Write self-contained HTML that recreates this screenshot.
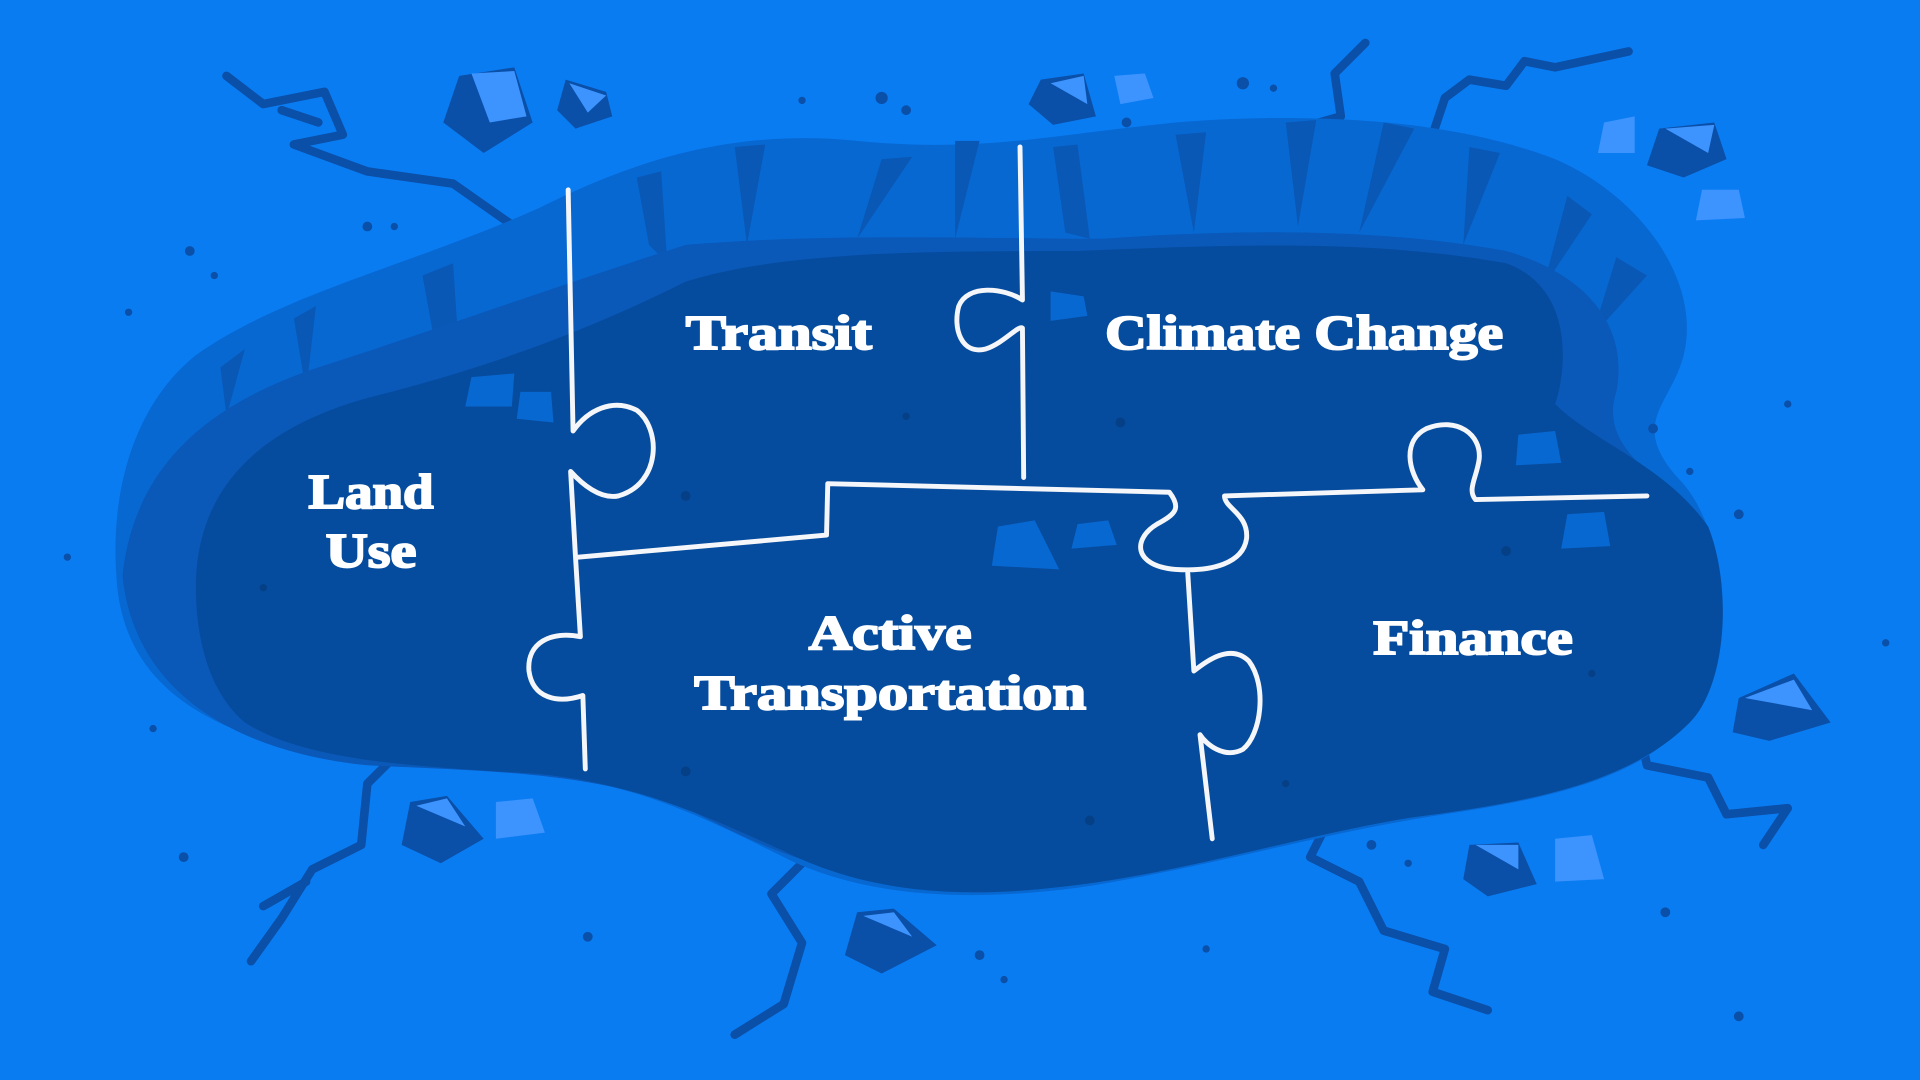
<!DOCTYPE html>
<html><head><meta charset="utf-8"><style>
html,body{margin:0;padding:0;background:#0a7cf2;overflow:hidden}
svg{display:block}
text{font-family:"Liberation Serif",serif;font-weight:bold;fill:#fff;stroke:#fff;stroke-width:1.6;text-anchor:middle}
</style></head><body>
<svg width="1920" height="1080" viewBox="0 0 1568 882" xmlns="http://www.w3.org/2000/svg">
<rect width="1568" height="882" fill="#0a7cf2"/>
<!-- cracks -->
<g fill="none" stroke="#0a4fa8" stroke-width="7" stroke-linejoin="round" stroke-linecap="round">
<polyline points="185,62 215,85 265,75 280,110 240,118 300,140 370,150 420,185"/>
<polyline points="230,90 260,100"/>
<polyline points="1115,35 1090,60 1095,95 1060,105 1040,115"/>
<polyline points="1330,42 1270,55 1245,50 1230,70 1200,65 1180,80 1170,110"/>
<polyline points="320,620 300,640 295,690 255,710 230,750 205,785"/>
<polyline points="250,720 215,740"/>
<polyline points="660,700 630,730 655,770 640,820 600,845"/>
<polyline points="1080,680 1070,700 1110,720 1130,760 1180,775 1170,810 1215,825"/>
<polyline points="1340,600 1345,625 1395,635 1410,665 1460,660 1440,690"/>
</g>
<!-- pit rim -->
<path d="M95,470 C90,400 110,330 160,290 C230,240 340,215 440,170 C520,130 600,105 700,115 C800,125 860,110 960,100 C1060,92 1180,95 1270,130 C1340,160 1390,230 1375,290 C1365,330 1330,345 1370,390 C1410,430 1415,520 1390,570 C1360,630 1280,650 1180,665 C1080,680 980,710 880,725 C780,738 700,730 640,700 C580,670 520,640 440,632 C350,625 260,625 190,595 C130,570 98,530 95,470 Z" fill="#0868d2"/>
<!-- rim stripes -->
<g fill="#0a58b6">
<path d="M180,300 L200,285 L185,340 Z"/><path d="M240,260 L258,250 L250,320 Z"/>
<path d="M345,225 L370,215 L375,290 L355,280 Z"/><path d="M520,145 L540,140 L545,215 L530,200 Z"/>
<path d="M600,120 L625,118 L610,200 Z"/><path d="M720,130 L745,128 L700,195 Z"/>
<path d="M780,115 L800,115 L780,195 Z"/><path d="M860,120 L880,118 L890,195 L870,190 Z"/>
<path d="M960,110 L985,108 L975,190 Z"/><path d="M1050,100 L1075,98 L1060,185 Z"/>
<path d="M1130,100 L1155,105 L1110,190 Z"/><path d="M1200,120 L1225,125 L1195,200 Z"/>
<path d="M1280,160 L1300,175 L1260,235 Z"/><path d="M1320,210 L1345,225 L1300,275 Z"/>
</g>
<!-- inner band -->
<path d="M100,470 C110,380 170,330 260,300 C360,268 450,235 560,200 C680,190 800,195 900,195 C1000,188 1120,185 1230,205 C1300,225 1330,270 1320,320 C1310,350 1330,370 1340,380 L1330,600 C1200,660 1000,700 850,720 C700,735 620,690 560,660 C480,630 400,630 300,625 C200,615 110,570 100,470 Z" fill="#0a58b8"/>
<!-- floor -->
<path d="M160,480 C160,400 210,350 300,325 C400,300 480,270 560,230 C640,205 760,205 880,205 C1000,200 1120,195 1230,215 C1285,235 1280,300 1270,330 C1300,360 1360,380 1395,430 C1415,480 1410,560 1380,590 C1330,640 1250,655 1150,668 C1050,685 960,715 860,725 C770,735 700,725 640,695 C580,668 520,640 440,632 C340,626 250,622 200,590 C170,565 160,520 160,480 Z" fill="#064c9e"/>
<!-- rocks -->
<g>
<path d="M375,62 L420,55 L435,100 L395,125 L362,100 Z" fill="#0a4fa8"/><path d="M385,60 L420,58 L430,95 L400,100 Z" fill="#3d94ff"/>
<path d="M462,65 L495,75 L500,95 L470,105 L455,90 Z" fill="#0a4fa8"/><path d="M465,68 L495,78 L480,92 Z" fill="#3d94ff"/>
<path d="M850,65 L885,60 L895,95 L860,102 L840,85 Z" fill="#0a4fa8"/><path d="M858,68 L885,62 L888,85 Z" fill="#3d94ff"/>
<path d="M910,62 L935,60 L942,80 L915,85 Z" fill="#3d94ff"/>
<path d="M1310,100 L1335,95 L1335,125 L1305,125 Z" fill="#3d94ff"/>
<path d="M1355,105 L1400,100 L1410,130 L1375,145 L1345,135 Z" fill="#0a4fa8"/><path d="M1360,105 L1400,102 L1395,125 Z" fill="#3d94ff"/>
<path d="M1390,155 L1420,155 L1425,178 L1385,180 Z" fill="#3d94ff"/>
<path d="M1420,570 L1465,550 L1495,590 L1445,605 L1415,598 Z" fill="#0a4fa8"/><path d="M1425,570 L1465,555 L1480,580 Z" fill="#3d94ff"/>
<path d="M335,655 L365,650 L395,685 L360,705 L328,690 Z" fill="#0a4fa8"/><path d="M340,658 L365,652 L380,675 Z" fill="#3d94ff"/>
<path d="M405,655 L435,652 L445,680 L405,685 Z" fill="#3d94ff"/>
<path d="M700,745 L730,742 L765,772 L720,795 L690,780 Z" fill="#0a4fa8"/><path d="M705,748 L730,745 L745,765 Z" fill="#3d94ff"/>
<path d="M1200,690 L1240,688 L1255,722 L1215,732 L1195,718 Z" fill="#0a4fa8"/><path d="M1205,690 L1240,690 L1240,710 Z" fill="#3d94ff"/>
<path d="M1270,685 L1300,682 L1310,718 L1270,720 Z" fill="#3d94ff"/>
<path d="M815,430 L845,425 L865,465 L810,462 Z" fill="#0868d2"/><path d="M880,428 L905,425 L912,445 L875,448 Z" fill="#0868d2"/>
<path d="M858,238 L885,242 L888,258 L858,262 Z" fill="#0868d2"/>
<path d="M1280,420 L1310,418 L1315,446 L1275,448 Z" fill="#0868d2"/>
<path d="M1240,355 L1270,352 L1275,378 L1238,380 Z" fill="#0868d2"/>
<path d="M385,308 L420,305 L418,332 L380,332 Z" fill="#0868d2"/><path d="M425,320 L450,320 L452,345 L422,342 Z" fill="#0868d2"/>
</g>
<!-- speckles -->
<g fill="#0a4fa8">
<circle cx="155" cy="205" r="4"/><circle cx="175" cy="225" r="3"/><circle cx="300" cy="185" r="4"/><circle cx="322" cy="185" r="3"/><circle cx="105" cy="255" r="3"/>
<circle cx="720" cy="80" r="5"/><circle cx="740" cy="90" r="4"/><circle cx="655" cy="82" r="3"/><circle cx="1015" cy="68" r="5"/><circle cx="1040" cy="72" r="3"/>
<circle cx="1420" cy="420" r="4"/><circle cx="1460" cy="330" r="3"/><circle cx="1350" cy="350" r="4"/><circle cx="1380" cy="385" r="3"/>
<circle cx="150" cy="700" r="4"/><circle cx="125" cy="595" r="3"/><circle cx="480" cy="765" r="4"/><circle cx="800" cy="780" r="4"/><circle cx="820" cy="800" r="3"/>
<circle cx="1120" cy="690" r="4"/><circle cx="1150" cy="705" r="3"/><circle cx="1360" cy="745" r="4"/><circle cx="1420" cy="830" r="4"/><circle cx="985" cy="775" r="3"/>
<circle cx="55" cy="455" r="3"/><circle cx="1540" cy="525" r="3"/><circle cx="920" cy="100" r="4"/>
</g>
<g fill="#053f86">
<circle cx="560" cy="405" r="4"/><circle cx="740" cy="340" r="3"/><circle cx="915" cy="345" r="4"/><circle cx="1230" cy="450" r="4"/><circle cx="215" cy="480" r="3"/>
<circle cx="890" cy="670" r="4"/><circle cx="560" cy="630" r="4"/><circle cx="1050" cy="640" r="3"/><circle cx="1300" cy="550" r="3"/>
</g>
<!-- puzzle lines -->
<g fill="none" stroke="#f4f6fa" stroke-width="4" stroke-linecap="round" stroke-linejoin="round">
<path d="M464,155 L468,352 C480,335 500,325 520,335 C540,350 540,395 505,405 C490,408 475,395 466,385 L470,455 L474,520 C450,515 430,525 432,548 C435,570 455,575 476,568 L478,628"/>
<path d="M472,455 L675,437 L676,395 L955,402 C965,415 960,420 945,428 C925,440 925,462 960,465 C990,467 1015,460 1018,440 C1020,420 1000,415 1000,405 L1162,400 C1150,385 1145,360 1165,350 C1190,340 1210,355 1208,375 C1206,390 1198,400 1205,408 L1345,405"/>
<path d="M833,120 L835,245 C820,235 790,232 783,250 C778,268 785,290 805,285 C820,280 832,265 835,268 L836,390"/>
<path d="M970,468 L975,548 C985,540 1005,525 1020,540 C1035,560 1030,600 1015,612 C1000,620 985,608 980,600 L990,685"/>
</g>
<!-- labels -->
<text x="636" y="285" font-size="40" textLength="152" lengthAdjust="spacingAndGlyphs">Transit</text>
<text x="1065" y="285" font-size="40" textLength="325" lengthAdjust="spacingAndGlyphs">Climate Change</text>
<text x="303" y="415" font-size="40" textLength="102" lengthAdjust="spacingAndGlyphs">Land</text>
<text x="303" y="463" font-size="40" textLength="74" lengthAdjust="spacingAndGlyphs">Use</text>
<text x="727" y="530" font-size="40" textLength="133" lengthAdjust="spacingAndGlyphs">Active</text>
<text x="727" y="579" font-size="40" textLength="320" lengthAdjust="spacingAndGlyphs">Transportation</text>
<text x="1203" y="534" font-size="40" textLength="163" lengthAdjust="spacingAndGlyphs">Finance</text>
</svg>
</body></html>
